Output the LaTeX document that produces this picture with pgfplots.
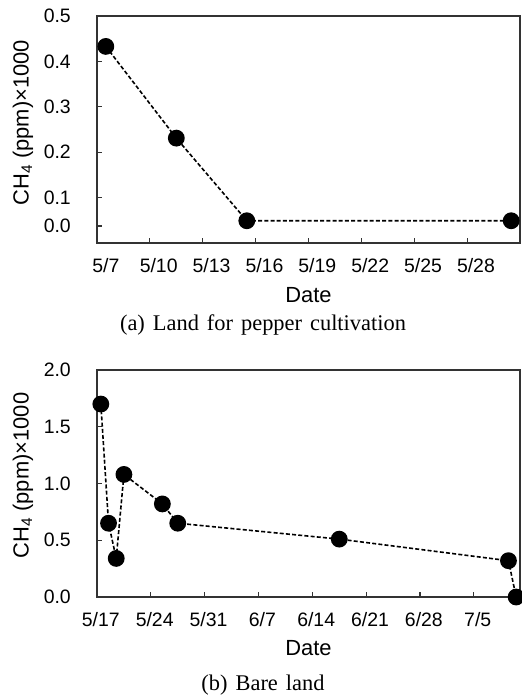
\documentclass[border=0pt]{standalone}
\usepackage{fontspec}
\setmainfont{Liberation Sans}
\newfontfamily\capfont{Liberation Serif}
\usepackage{pgfplots}
\pgfplotsset{compat=1.18}

\newcommand\tf{\fontsize{19.5}{20}\selectfont}
\pgfplotsset{
  chplot/.style={
    scale only axis, width=423bp, height=227bp,
    axis line style={black!80, line width=1.3bp},
    tick style={black!80, line width=1.2bp},
    tick align=inside, xtick pos=bottom, ytick pos=left,
    major tick length=5bp, minor tick length=5bp,
    major x tick style={draw=none},
    label style={font=\fontsize{22}{22}\selectfont},
    xticklabel style={anchor=north, inner sep=0pt, yshift=-15bp},
    yticklabel style={anchor=east, inner sep=0pt, xshift=-26bp},
    ylabel={CH\textsubscript{4} (ppm)×1000},
    xlabel={Date},
    clip=false,
  },
  chline/.style={black, line width=1.6bp, dash pattern=on 4bp off 2.2bp,
    mark=*, mark size=7.6bp, mark options={solid, fill=black}},
}

\begin{document}
\begin{tikzpicture}
\path[use as bounding box] (0,0) rectangle (522bp,-697bp);

% (a) pepper field, x = day of May
\begin{axis}[chplot, at={(97bp,-16bp)}, anchor=north west,
    xmin=6.5, xmax=30.5, ymin=0, ymax=0.5,
    xtick={7,10,...,28},
    xticklabels={{\tf 5/7},{\tf 5/10},{\tf 5/13},{\tf 5/16},{\tf 5/19},{\tf 5/22},{\tf 5/25},{\tf 5/28}},
    minor xtick={9.5,12.5,...,27.5},
    ytick={0.0375,0.1,0.2,0.3,0.4,0.5},
    yticklabels={{\tf 0.0},{\tf 0.1},{\tf 0.2},{\tf 0.3},{\tf 0.4},{\tf 0.5}},
    xlabel style={at={(axis description cs:0.5,-0.229)}, anchor=center},
    ylabel style={at={(axis description cs:-0.175,0.53)}, anchor=center}]
  \addplot[chline] coordinates {(7,0.433) (11,0.231) (15,0.049) (30,0.049)};
\end{axis}
\node[font=\capfont\fontsize{22.5}{23}\selectfont] at (263bp,-325bp)
  {(a)\hspace{8bp}Land\hspace{8bp}for\hspace{8bp}pepper\hspace{8bp}cultivation};

% (b) bare land, x = days since 5/17
\begin{axis}[chplot, at={(97bp,-370bp)}, anchor=north west,
    xmin=-0.5, xmax=54.5, ymin=0, ymax=2,
    xtick={0,7,...,49},
    xticklabels={{\tf 5/17},{\tf 5/24},{\tf 5/31},{\tf 6/7},{\tf 6/14},{\tf 6/21},{\tf 6/28},{\tf 7/5}},
    minor xtick={6.5,13.5,...,48.5},
    ytick={0,0.5,1,1.5,2},
    yticklabels={{\tf 0.0},{\tf 0.5},{\tf 1.0},{\tf 1.5},{\tf 2.0}},
    xlabel style={at={(axis description cs:0.5,-0.225)}, anchor=center},
    ylabel style={at={(axis description cs:-0.175,0.535)}, anchor=center}]
  \addplot[chline] coordinates {(0,1.70) (1,0.65) (2,0.34) (3,1.08) (8,0.82)
    (10,0.65) (31,0.51) (53,0.32) (54,0.0)};
\end{axis}
\node[font=\capfont\fontsize{22.5}{23}\selectfont] at (263bp,-685bp)
  {(b)\hspace{8bp}Bare\hspace{8bp}land};
\end{tikzpicture}
\end{document}
